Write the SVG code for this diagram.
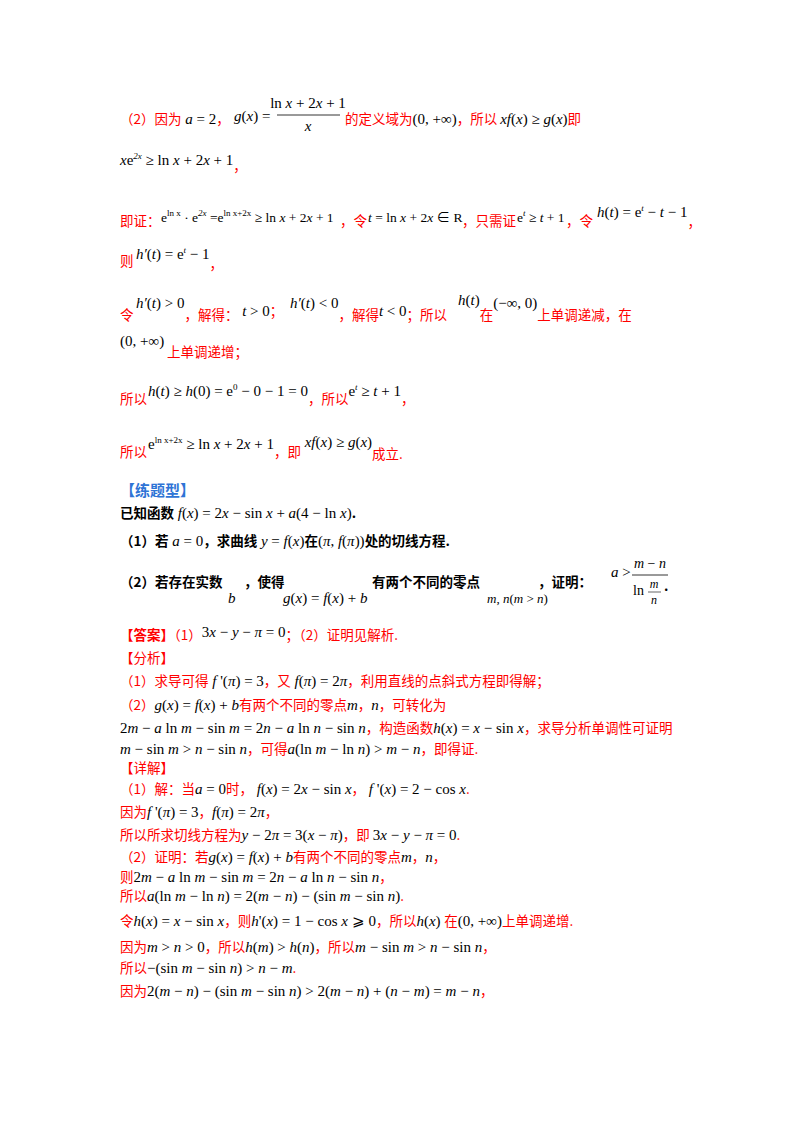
<svg xmlns="http://www.w3.org/2000/svg" width="800" height="1132" viewBox="0 0 800 1132">
<style>
text{font-family:"Liberation Serif","Noto Sans CJK SC",serif;font-size:15px;fill:#000}
.c{font-family:"Noto Sans CJK SC",sans-serif;font-size:13.5px;fill:#ff0000}
.k{font-family:"Noto Sans CJK SC",sans-serif;font-size:13.5px;fill:#000;font-weight:bold}
.h{font-family:"Noto Sans CJK SC",sans-serif;font-size:15px;fill:#2e74d6;font-weight:bold}
.i{font-style:italic}
.s{font-size:9px}
.m14{font-size:13.5px}
</style>
<rect width="800" height="1132" fill="#fff"/>
<g id="part2">
<text x="120" y="124"><tspan class="c">（2）因为</tspan><tspan class="i"> a</tspan> = 2<tspan class="c">，</tspan></text>
<text x="234" y="121"><tspan class="i">g</tspan>(<tspan class="i">x</tspan>) =</text>
<text x="308" y="108" text-anchor="middle">ln <tspan class="i">x</tspan> + 2<tspan class="i">x</tspan> + 1</text>
<line x1="277" y1="115" x2="340" y2="115" stroke="#000" stroke-width="0.8"/>
<text x="308" y="131" text-anchor="middle" class="i">x</text>
<text x="345" y="124"><tspan class="c">的定义域为</tspan>(0, +∞)<tspan class="c">，所以 </tspan><tspan class="i">xf</tspan>(<tspan class="i">x</tspan>) ≥ <tspan class="i">g</tspan>(<tspan class="i">x</tspan>)<tspan class="c">即</tspan></text>
<text x="120" y="165"><tspan class="i">x</tspan>e<tspan class="s i" dy="-6">2x</tspan><tspan dy="6"> ≥ ln </tspan><tspan class="i">x</tspan> + 2<tspan class="i">x</tspan> + 1<tspan class="c" dy="6">，</tspan></text>
<text x="120" y="226" class="c">即证：</text>
<text x="161" y="222" class="m14">e<tspan class="s" dy="-6">ln x</tspan><tspan dy="6"> · e</tspan><tspan class="s i" dy="-6">2x</tspan><tspan dy="6"> =e</tspan><tspan class="s" dy="-6">ln x+2x</tspan><tspan dy="6"> ≥ ln </tspan><tspan class="i">x</tspan> + 2<tspan class="i">x</tspan> + 1</text>
<text x="340" y="226" class="c">，令</text>
<text x="368" y="222" class="m14"><tspan class="i">t</tspan> = ln <tspan class="i">x</tspan> + 2<tspan class="i">x</tspan> ∈ R</text>
<text x="462" y="226" class="c">，只需证</text>
<text x="517" y="222" class="m14">e<tspan class="s i" dy="-6">t</tspan><tspan dy="6"> ≥ </tspan><tspan class="i">t</tspan> + 1</text>
<text x="566" y="226" class="c">，令</text>
<text x="597" y="217"><tspan class="i">h</tspan>(<tspan class="i">t</tspan>) = e<tspan class="s i" dy="-6">t</tspan><tspan dy="6"> − </tspan><tspan class="i">t</tspan> − 1<tspan class="c" dy="10">，</tspan></text>
<text x="120" y="266"><tspan class="c">则</tspan></text>
<text x="136" y="259"><tspan class="i">h′</tspan>(<tspan class="i">t</tspan>) = e<tspan class="s i" dy="-6">t</tspan><tspan dy="6"> − 1</tspan><tspan class="c" dy="10">，</tspan></text>
<text x="120" y="320" class="c">令</text>
<text x="136" y="308"><tspan class="i">h′</tspan>(<tspan class="i">t</tspan>) &gt; 0<tspan class="c" dy="12">，解得：</tspan><tspan class="i" dy="-4"> t</tspan> &gt; 0<tspan class="c">；</tspan></text>
<text x="290" y="308"><tspan class="i">h′</tspan>(<tspan class="i">t</tspan>) &lt; 0<tspan class="c" dy="12">，解得</tspan><tspan class="i" dy="-4">t</tspan> &lt; 0<tspan class="c" dy="4">；所以</tspan></text>
<text x="458" y="305"><tspan class="i">h</tspan>(<tspan class="i">t</tspan>)<tspan class="c" dy="15">在</tspan><tspan dy="-12">(−∞, 0)</tspan><tspan class="c" dy="12">上单调递减，在</tspan></text>
<text x="120" y="346">(0, +∞)</text>
<text x="167" y="357" class="c">上单调递增；</text>
<text x="120" y="404" class="c">所以</text>
<text x="148" y="396"><tspan class="i">h</tspan>(<tspan class="i">t</tspan>) ≥ <tspan class="i">h</tspan>(0) = e<tspan class="s" dy="-6">0</tspan><tspan dy="6"> − 0 − 1 = 0</tspan><tspan class="c" dy="8">，所以</tspan><tspan dy="-8">e</tspan><tspan class="s i" dy="-6">t</tspan><tspan dy="6"> ≥ </tspan><tspan class="i">t</tspan> + 1<tspan class="c" dy="8">，</tspan></text>
<text x="120" y="457" class="c">所以</text>
<text x="148" y="449">e<tspan class="s" dy="-6">ln x+2x</tspan><tspan dy="6"> ≥ ln </tspan><tspan class="i">x</tspan> + 2<tspan class="i">x</tspan> + 1<tspan class="c" dy="8">，即</tspan><tspan class="i" dy="-10"> xf</tspan>(<tspan class="i">x</tspan>) ≥ <tspan class="i">g</tspan>(<tspan class="i">x</tspan>)<tspan class="c" dy="12">成立.</tspan></text>
</g>
<g id="practice">
<text x="120" y="496" class="h">【练题型】</text>
<text x="120" y="518"><tspan class="k">已知函数</tspan> <tspan class="i">f</tspan>(<tspan class="i">x</tspan>) = 2<tspan class="i">x</tspan> − sin <tspan class="i">x</tspan> + <tspan class="i">a</tspan>(4 − ln <tspan class="i">x</tspan>)<tspan class="k">.</tspan></text>
<text x="120" y="546"><tspan class="k">（1）若</tspan><tspan class="i"> a</tspan> = 0<tspan class="k">，求曲线</tspan><tspan class="i"> y</tspan> = <tspan class="i">f</tspan>(<tspan class="i">x</tspan>)<tspan class="k">在</tspan>(<tspan class="i">π</tspan>, <tspan class="i">f</tspan>(<tspan class="i">π</tspan>))<tspan class="k">处的切线方程.</tspan></text>
<text x="120" y="587" class="k">（2）若存在实数</text>
<text x="228" y="603" class="i">b</text>
<text x="244" y="587" class="k">，使得</text>
<text x="283" y="603"><tspan class="i">g</tspan>(<tspan class="i">x</tspan>) = <tspan class="i">f</tspan>(<tspan class="i">x</tspan>) + <tspan class="i">b</tspan></text>
<text x="372" y="587" class="k">有两个不同的零点</text>
<text x="487" y="603" style="font-size:13px"><tspan class="i">m</tspan>, <tspan class="i">n</tspan>(<tspan class="i">m</tspan> &gt; <tspan class="i">n</tspan>)</text>
<text x="538" y="587" class="k">，证明：</text>
<text x="611" y="577"><tspan class="i">a</tspan> &gt;</text>
<text x="650" y="568" text-anchor="middle" style="font-size:14px"><tspan class="i">m</tspan> − <tspan class="i">n</tspan></text>
<line x1="632" y1="575" x2="668" y2="575" stroke="#000" stroke-width="0.8"/>
<text x="633" y="595" style="font-size:14px">ln</text>
<text x="654" y="588" text-anchor="middle" class="i" style="font-size:12px">m</text>
<line x1="648" y1="592" x2="661" y2="592" stroke="#000" stroke-width="0.6"/>
<text x="654" y="604" text-anchor="middle" class="i" style="font-size:12px">n</text>
<text x="664" y="591" class="k">.</text>
</g>
<g id="answer">
<text x="120" y="640"><tspan class="c" style="font-weight:bold">【答案】</tspan><tspan class="c">（1）</tspan><tspan dy="-3">3</tspan><tspan class="i">x</tspan> − <tspan class="i">y</tspan> − <tspan class="i">π</tspan> = 0<tspan class="c" dy="3">；（2）证明见解析.</tspan></text>
<text x="120" y="663" class="c">【分析】</text>
<text x="120" y="686"><tspan class="c">（1）求导可得</tspan><tspan class="i"> f </tspan>'(<tspan class="i">π</tspan>) = 3<tspan class="c">，又</tspan><tspan class="i"> f</tspan>(<tspan class="i">π</tspan>) = 2<tspan class="i">π</tspan><tspan class="c">，利用直线的点斜式方程即得解；</tspan></text>
<text x="120" y="710"><tspan class="c">（2）</tspan><tspan class="i">g</tspan>(<tspan class="i">x</tspan>) = <tspan class="i">f</tspan>(<tspan class="i">x</tspan>) + <tspan class="i">b</tspan><tspan class="c">有两个不同的零点</tspan><tspan class="i">m</tspan><tspan class="c">，</tspan><tspan class="i">n</tspan><tspan class="c">，可转化为</tspan></text>
<text x="120" y="733">2<tspan class="i">m</tspan> − <tspan class="i">a</tspan> ln <tspan class="i">m</tspan> − sin <tspan class="i">m</tspan> = 2<tspan class="i">n</tspan> − <tspan class="i">a</tspan> ln <tspan class="i">n</tspan> − sin <tspan class="i">n</tspan><tspan class="c">，构造函数</tspan><tspan class="i">h</tspan>(<tspan class="i">x</tspan>) = <tspan class="i">x</tspan> − sin <tspan class="i">x</tspan><tspan class="c">，求导分析单调性可证明</tspan></text>
<text x="120" y="754"><tspan class="i">m</tspan> − sin <tspan class="i">m</tspan> &gt; <tspan class="i">n</tspan> − sin <tspan class="i">n</tspan><tspan class="c">，可得</tspan><tspan class="i">a</tspan>(ln <tspan class="i">m</tspan> − ln <tspan class="i">n</tspan>) &gt; <tspan class="i">m</tspan> − <tspan class="i">n</tspan><tspan class="c">，即得证.</tspan></text>
<text x="120" y="773" class="c">【详解】</text>
<text x="120" y="794"><tspan class="c">（1）解：当</tspan><tspan class="i">a</tspan> = 0<tspan class="c">时，</tspan><tspan class="i"> f</tspan>(<tspan class="i">x</tspan>) = 2<tspan class="i">x</tspan> − sin <tspan class="i">x</tspan><tspan class="c">，</tspan><tspan class="i"> f </tspan>'(<tspan class="i">x</tspan>) = 2 − cos <tspan class="i">x</tspan><tspan class="c">.</tspan></text>
<text x="120" y="817"><tspan class="c">因为</tspan><tspan class="i">f </tspan>'(<tspan class="i">π</tspan>) = 3<tspan class="c">，</tspan><tspan class="i">f</tspan>(<tspan class="i">π</tspan>) = 2<tspan class="i">π</tspan><tspan class="c">，</tspan></text>
<text x="120" y="840"><tspan class="c">所以所求切线方程为</tspan><tspan class="i">y</tspan> − 2<tspan class="i">π</tspan> = 3(<tspan class="i">x</tspan> − <tspan class="i">π</tspan>)<tspan class="c">，即 </tspan>3<tspan class="i">x</tspan> − <tspan class="i">y</tspan> − <tspan class="i">π</tspan> = 0<tspan class="c">.</tspan></text>
<text x="120" y="862"><tspan class="c">（2）证明：若</tspan><tspan class="i">g</tspan>(<tspan class="i">x</tspan>) = <tspan class="i">f</tspan>(<tspan class="i">x</tspan>) + <tspan class="i">b</tspan><tspan class="c">有两个不同的零点</tspan><tspan class="i">m</tspan><tspan class="c">，</tspan><tspan class="i">n</tspan><tspan class="c">，</tspan></text>
<text x="120" y="882"><tspan class="c">则</tspan>2<tspan class="i">m</tspan> − <tspan class="i">a</tspan> ln <tspan class="i">m</tspan> − sin <tspan class="i">m</tspan> = 2<tspan class="i">n</tspan> − <tspan class="i">a</tspan> ln <tspan class="i">n</tspan> − sin <tspan class="i">n</tspan><tspan class="c">，</tspan></text>
<text x="120" y="901"><tspan class="c">所以</tspan><tspan class="i">a</tspan>(ln <tspan class="i">m</tspan> − ln <tspan class="i">n</tspan>) = 2(<tspan class="i">m</tspan> − <tspan class="i">n</tspan>) − (sin <tspan class="i">m</tspan> − sin <tspan class="i">n</tspan>)<tspan class="c">.</tspan></text>
<text x="120" y="926"><tspan class="c">令</tspan><tspan class="i">h</tspan>(<tspan class="i">x</tspan>) = <tspan class="i">x</tspan> − sin <tspan class="i">x</tspan><tspan class="c">，则</tspan><tspan class="i">h</tspan>'(<tspan class="i">x</tspan>) = 1 − cos <tspan class="i">x</tspan> ⩾ 0<tspan class="c">，所以</tspan><tspan class="i">h</tspan>(<tspan class="i">x</tspan>) <tspan class="c">在</tspan>(0, +∞)<tspan class="c">上单调递增.</tspan></text>
<text x="120" y="952"><tspan class="c">因为</tspan><tspan class="i">m</tspan> &gt; <tspan class="i">n</tspan> &gt; 0<tspan class="c">，所以</tspan><tspan class="i">h</tspan>(<tspan class="i">m</tspan>) &gt; <tspan class="i">h</tspan>(<tspan class="i">n</tspan>)<tspan class="c">，所以</tspan><tspan class="i">m</tspan> − sin <tspan class="i">m</tspan> &gt; <tspan class="i">n</tspan> − sin <tspan class="i">n</tspan><tspan class="c">，</tspan></text>
<text x="120" y="973"><tspan class="c">所以</tspan>−(sin <tspan class="i">m</tspan> − sin <tspan class="i">n</tspan>) &gt; <tspan class="i">n</tspan> − <tspan class="i">m</tspan><tspan class="c">.</tspan></text>
<text x="120" y="996"><tspan class="c">因为</tspan>2(<tspan class="i">m</tspan> − <tspan class="i">n</tspan>) − (sin <tspan class="i">m</tspan> − sin <tspan class="i">n</tspan>) &gt; 2(<tspan class="i">m</tspan> − <tspan class="i">n</tspan>) + (<tspan class="i">n</tspan> − <tspan class="i">m</tspan>) = <tspan class="i">m</tspan> − <tspan class="i">n</tspan><tspan class="c">，</tspan></text>
</g>
</svg>
